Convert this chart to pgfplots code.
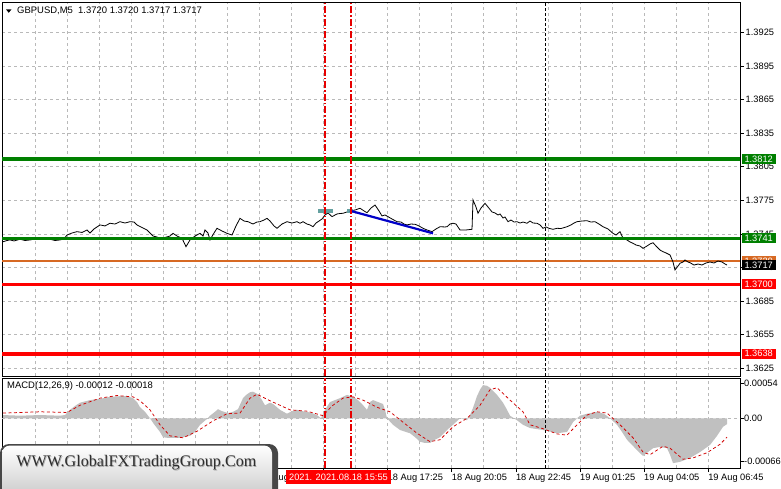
\documentclass[border=0pt]{standalone}
\usepackage{pgfplots}
\pgfplotsset{compat=1.18}
\usepackage{fontspec}
\setmainfont{Liberation Sans}
\newfontfamily\wmfont{Liberation Serif}
\definecolor{gridgray}{RGB}{185,185,185}
\definecolor{mtgreen}{RGB}{0,128,0}
\definecolor{mtred}{RGB}{255,0,0}
\definecolor{mtorange}{RGB}{215,105,35}
\definecolor{histgray}{RGB}{192,192,192}
\definecolor{sigred}{RGB}{210,0,0}
\definecolor{tlblue}{RGB}{0,0,200}
\definecolor{tealbox}{RGB}{100,160,160}
\definecolor{vred}{RGB}{230,0,0}
\pgfplotsset{mt/.style={
  scale only axis, anchor=north west, width=738bp,
  xmin=2, xmax=740,
  axis line style={line width=0.8bp},
  xtick={67.1,131.2,195.3,259.4,323.5,387.6,451.7,515.8,579.9,644.0,708.1},
  minor xtick={35.05,99.15,163.25,227.35,291.45,355.55,419.65,483.75,547.85,611.95,676.05},
  xmajorgrids, xminorgrids,
  major grid style={gridgray, dash pattern=on 3bp off 3bp, line width=0.6bp},
  minor grid style={gridgray, dash pattern=on 3bp off 3bp, line width=0.6bp},
  ytick pos=right, yticklabel pos=right, xtick pos=bottom,
  tick align=outside, major tick length=4bp, minor tick length=0bp,
  tick style={black, line width=0.6bp},
  tick label style={font=\fontsize{9.3}{11}\selectfont},
  yticklabel style={inner xsep=1.5bp},
  /pgf/number format/assume math mode=true,
  scaled y ticks=false,
  vline/.style={draw=vred, color=vred, line width=1.2bp, dash pattern=on 7bp off 2bp on 1.5bp off 2bp},
}}
\begin{document}
\begin{tikzpicture}[x=1bp,y=-1bp]
\path[use as bounding box] (0,0) rectangle (781,489);
\fill[white] (0,0) rectangle (781,489);
% ---------------- main price panel
\begin{axis}[mt, at={(2bp,-2bp)}, height=374bp,
  ymin=1.361812, ymax=1.395205,
  ymajorgrids,
  xtick style={draw=none}, xticklabels={},
  ytick={1.3625,1.3655,1.3685,1.3715,1.3745,1.3775,1.3805,1.3835,1.3865,1.3895,1.3925},
  yticklabel={\pgfmathprintnumber[fixed,fixed zerofill,precision=4]{\tick}},
]
\addplot[draw=mtorange, solid, line width=1.8bp] coordinates {(2,1.37205) (740,1.37205)};
\addplot[draw=black, line width=0.8bp] coordinates {
(3,1.37380) (7,1.37391) (10,1.37396) (14,1.37387) (20,1.37402) (25,1.37391) (30,1.37396) (35,1.37405) (40,1.37411) (45,1.37400) (50,1.37402) (55,1.37391) (60,1.37396) (64,1.37405) (67,1.37440) (72,1.37458) (77,1.37470) (82,1.37463) (87,1.37485) (90,1.37458) (94,1.37494) (100,1.37530) (105,1.37521) (110,1.37545) (115,1.37538) (120,1.37559) (125,1.37547) (130,1.37559) (134,1.37556) (137,1.37530) (142,1.37507) (147,1.37485) (150,1.37458) (153,1.37431) (157,1.37422) (160,1.37411) (165,1.37418) (170,1.37431) (173,1.37455) (177,1.37431) (182,1.37411) (186,1.37336) (190,1.37396) (195,1.37431) (200,1.37455) (203,1.37431) (205,1.37485) (208,1.37458) (210,1.37396) (214,1.37458) (217,1.37500) (222,1.37476) (227,1.37455) (232,1.37440) (236,1.37521) (240,1.37589) (244,1.37565) (248,1.37559) (253,1.37538) (257,1.37556) (260,1.37559) (264,1.37574) (267,1.37589) (270,1.37565) (274,1.37521) (277,1.37500) (282,1.37538) (287,1.37559) (292,1.37547) (297,1.37559) (300,1.37545) (303,1.37559) (307,1.37538) (310,1.37530) (313,1.37514) (316,1.37547) (318,1.37559) (322,1.37583) (325,1.37619) (328,1.37637) (332,1.37604) (337,1.37628) (340,1.37632) (343,1.37634) (347,1.37646) (350,1.37657) (355,1.37663) (360,1.37679) (364,1.37655) (367,1.37639) (371,1.37681) (375,1.37708) (379,1.37655) (382,1.37610) (385,1.37619) (388,1.37604) (392,1.37583) (397,1.37559) (401,1.37556) (404,1.37538) (407,1.37530) (411,1.37538) (415,1.37536) (419,1.37521) (423,1.37500) (427,1.37485) (432,1.37470) (436,1.37494) (440,1.37514) (445,1.37512) (447,1.37514) (450,1.37538) (453,1.37545) (456,1.37538) (460,1.37485) (466,1.37485) (472,1.37491) (473,1.37753) (476,1.37690) (478,1.37634) (481,1.37681) (485,1.37723) (488,1.37690) (492,1.37646) (495,1.37637) (498,1.37619) (500,1.37628) (503,1.37592) (505,1.37601) (508,1.37559) (511,1.37574) (514,1.37556) (517,1.37559) (520,1.37547) (523,1.37556) (527,1.37545) (530,1.37565) (533,1.37547) (537,1.37545) (540,1.37530) (543,1.37500) (546,1.37512) (549,1.37500) (553,1.37491) (557,1.37500) (561,1.37498) (567,1.37514) (571,1.37530) (574,1.37547) (577,1.37559) (582,1.37565) (587,1.37568) (591,1.37556) (595,1.37559) (599,1.37538) (603,1.37514) (608,1.37494) (613,1.37455) (616,1.37440) (620,1.37470) (623,1.37411) (627,1.37396) (630,1.37378) (633,1.37366) (636,1.37351) (640,1.37342) (643,1.37321) (647,1.37342) (650,1.37360) (653,1.37371) (656,1.37342) (660,1.37306) (663,1.37291) (666,1.37280) (670,1.37262) (673,1.37199) (675,1.37128) (678,1.37163) (680,1.37188) (683,1.37199) (685,1.37217) (688,1.37199) (690,1.37193) (694,1.37172) (698,1.37181) (702,1.37172) (706,1.37190) (710,1.37199) (714,1.37190) (718,1.37208) (722,1.37199) (725,1.37181) (727,1.37172)
};
\addplot[draw=mtgreen, line width=3.6bp] coordinates {(2,1.3812) (740,1.3812)};
\addplot[draw=mtgreen, line width=2.6bp] coordinates {(2,1.3741) (740,1.3741)};
\addplot[draw=mtred, line width=2.6bp] coordinates {(2,1.3700) (740,1.3700)};
\addplot[draw=mtred, line width=3.6bp] coordinates {(2,1.3638) (740,1.3638)};
\addplot[fill=tealbox, draw=none] coordinates {(318,1.37637) (333,1.37637) (333,1.37673) (318,1.37673)} -- cycle;
\addplot[fill=tealbox, draw=none] coordinates {(347,1.37640) (353,1.37640) (353,1.37673) (347,1.37673)} -- cycle;
\addplot[draw=tlblue, line width=2.2bp] coordinates {(350,1.37657) (433,1.37455)};
\addplot[vline] coordinates {(325,1.361812) (325,1.395205)};
\addplot[vline] coordinates {(351,1.361812) (351,1.395205)};
\addplot[draw=black, line width=0.9bp, dash pattern=on 3bp off 2bp] coordinates {(545,1.361812) (545,1.395205)};
\coordinate (G1) at (axis cs:740,1.3812);
\coordinate (G2) at (axis cs:740,1.3741);
\coordinate (R1) at (axis cs:740,1.3700);
\coordinate (R2) at (axis cs:740,1.3638);
\coordinate (OR) at (axis cs:740,1.37205);
\coordinate (BK) at (axis cs:740,1.3717);
\end{axis}
% ---------------- MACD panel
\begin{axis}[mt, at={(2bp,-378bp)}, height=90bp,
  ymin=-0.000765, ymax=0.00062,
  ytick={-0.00066,0,0.00054}, yticklabels={-0.00066,0.00,0.00054},
  yticklabel style={xshift=-1.5bp},
  xticklabels={18 Aug 04:05,18 Aug 06:45,18 Aug 09:25,18 Aug 12:05,18 Aug 14:45,18 Aug 17:25,18 Aug 20:05,18 Aug 22:45,19 Aug 01:25,19 Aug 04:05,19 Aug 06:45},
  xticklabel style={anchor=north west, inner sep=1.5bp, xshift=-1.5bp},
]
\addplot[draw=gridgray, line width=0.6bp, dash pattern=on 3bp off 3bp] coordinates {(2,0) (740,0)};
\addplot[fill=histgray, draw=none] coordinates {
(3,0) (3,0.00005) (20,0.00004) (40,0.00005) (60,0.00004) (65,0.00005) (70,0.00013) (75,0.00019) (80,0.00024) (90,0.00028) (100,0.00030) (110,0.00033) (120,0.00034) (127,0.00034) (133,0.00031) (137,0.00025) (140,0.00017) (145,0.00010) (150,0.00000) (154,-0.00009) (157,-0.00015) (160,-0.00021) (163,-0.00029) (167,-0.00030) (173,-0.00030) (180,-0.00030) (190,-0.00027) (195,-0.00021) (200,-0.00010) (207,-0.00001) (210,0.00004) (215,0.00010) (218,0.00014) (222,0.00011) (228,0.00008) (233,0.00010) (238,0.00014) (243,0.00031) (247,0.00037) (250,0.00040) (253,0.00041) (258,0.00037) (262,0.00028) (265,0.00020) (270,0.00024) (273,0.00022) (280,0.00013) (287,0.00007) (292,0.00011) (297,0.00013) (302,0.00011) (307,0.00010) (312,0.00008) (317,0.00005) (321,0.00000) (325,0.00013) (330,0.00025) (335,0.00028) (340,0.00031) (347,0.00036) (353,0.00033) (358,0.00028) (362,0.00022) (367,0.00013) (370,0.00025) (373,0.00028) (378,0.00025) (383,0.00022) (385,0.00013) (387,0.00000) (393,-0.00010) (400,-0.00018) (410,-0.00023) (415,-0.00029) (420,-0.00036) (425,-0.00038) (430,-0.00038) (435,-0.00033) (440,-0.00029) (447,-0.00018) (453,-0.00010) (460,0.00000) (467,-0.00003) (470,0.00005) (473,0.00016) (477,0.00034) (480,0.00044) (483,0.00051) (487,0.00050) (490,0.00047) (497,0.00036) (503,0.00024) (507,0.00013) (510,0.00004) (517,-0.00003) (523,-0.00010) (530,-0.00015) (543,-0.00018) (557,-0.00023) (567,-0.00021) (573,-0.00006) (577,0.00000) (580,0.00004) (587,0.00007) (597,0.00010) (604,0.00007) (610,0.00000) (617,-0.00010) (622,-0.00021) (627,-0.00033) (632,-0.00041) (637,-0.00049) (643,-0.00058) (648,-0.00052) (653,-0.00046) (660,-0.00044) (667,-0.00046) (670,-0.00056) (673,-0.00069) (680,-0.00067) (690,-0.00061) (700,-0.00052) (710,-0.00041) (717,-0.00027) (723,-0.00013) (727,-0.00009) (727,0)
} -- cycle;
\addplot[draw=sigred, line width=0.75bp, dash pattern=on 3bp off 2.5bp] coordinates {
(3,0.00008) (40,0.00010) (67,0.00009) (80,0.00020) (100,0.00031) (117,0.00035) (133,0.00033) (140,0.00027) (150,0.00013) (160,-0.00010) (170,-0.00027) (183,-0.00030) (197,-0.00020) (213,-0.00004) (227,0.00007) (240,0.00008) (250,0.00031) (257,0.00037) (270,0.00027) (290,0.00013) (307,0.00011) (323,0.00004) (332,0.00019) (343,0.00031) (353,0.00033) (363,0.00028) (377,0.00017) (390,0.00010) (403,-0.00006) (417,-0.00023) (430,-0.00036) (440,-0.00033) (453,-0.00013) (467,0.00000) (480,0.00020) (490,0.00044) (497,0.00047) (510,0.00028) (523,0.00010) (530,-0.00010) (543,-0.00016) (557,-0.00024) (567,-0.00026) (577,-0.00010) (587,0.00005) (597,0.00010) (607,0.00008) (620,-0.00010) (633,-0.00030) (643,-0.00052) (650,-0.00056) (663,-0.00043) (670,-0.00046) (683,-0.00063) (693,-0.00061) (707,-0.00053) (720,-0.00040) (727,-0.00029)
};
\addplot[vline] coordinates {(325,-0.000765) (325,0.00062)};
\addplot[vline] coordinates {(351,-0.000765) (351,0.00062)};
\addplot[draw=black, line width=0.9bp, dash pattern=on 3bp off 2bp] coordinates {(545,-0.000765) (545,0.00062)};
\end{axis}
% ---------------- overlays
\fill[black] (6,9.3) -- (11.5,9.3) -- (8.75,12.8) -- cycle;
\node[anchor=west, inner sep=0pt, font=\fontsize{9.5}{11}\selectfont] at (17,11) {GBPUSD,M5\ \ 1.3720 1.3720 1.3717 1.3717};
\node[anchor=west, inner sep=0pt, font=\fontsize{9.5}{11}\selectfont] at (7,386) {MACD(12,26,9) -0.00012 -0.00018};
\tikzset{pl/.style={anchor=west, text=white, inner xsep=2.8bp, inner ysep=0pt, minimum height=10bp, font=\fontsize{9.3}{10}\selectfont}}
\node[pl, fill=mtgreen] at ([xshift=1.5bp]G1) {1.3812};
\node[pl, fill=mtgreen] at ([xshift=1.5bp]G2) {1.3741};
\node[pl, fill=mtred] at ([xshift=1.5bp]R1) {1.3700};
\node[pl, fill=mtred] at ([xshift=1.5bp]R2) {1.3638};
\node[pl, fill=mtorange] at ([xshift=1.5bp]OR) {1.3720};
\node[pl, fill=black] at ([xshift=1.5bp]BK) {1.3717};
\node[fill=mtred, text=white, inner xsep=3bp, inner ysep=0pt, minimum height=14bp, font=\fontsize{9.3}{10}\selectfont] at (338.5,477) {2021. 2021.08.18 15:55};
% watermark
\fill[black!72, rounded corners=9bp] (0,444) rectangle (278,500);
\shade[top color=white, bottom color=black!22, rounded corners=8bp] (2,445.5) rectangle (272,500);
\node[font=\wmfont\fontsize{16.2}{17}\selectfont, text=black!35] at (137.2,463.7) {WWW.GlobalFXTradingGroup.Com};
\node[font=\wmfont\fontsize{16.2}{17}\selectfont, text=black!82] at (136.4,462.9) {WWW.GlobalFXTradingGroup.Com};
\end{tikzpicture}
\end{document}
